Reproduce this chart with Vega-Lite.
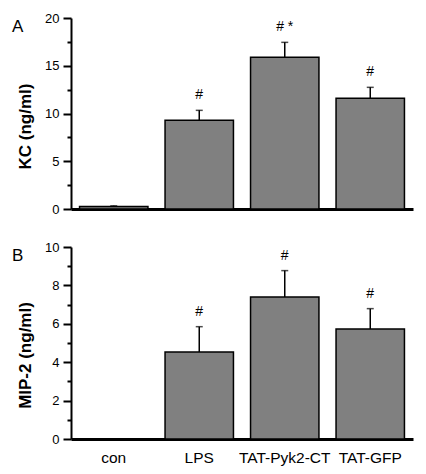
{
  "$schema": "https://vega.github.io/schema/vega-lite/v6.json",
  "padding": {"left": 12, "top": 12, "right": 8, "bottom": 2},
  "config": {
    "view": {"stroke": null},
    "font": "Liberation Sans",
    "axis": {"domainColor": "#000", "tickColor": "#000", "labelColor": "#000", "titleColor": "#000", "grid": false},
    "title": {"offset": -24, "fontSize": 17, "fontWeight": "normal", "anchor": "start", "frame": "group", "color": "#000", "baseline": "alphabetic", "dx": -59}
  },
  "spacing": 25,
  "vconcat": [
    {
      "width": 342,
      "height": 191,
      "title": "A",
      "data": {"values": [
        {"group": "con", "value": 0.25, "err": 0.33, "sig": ""},
        {"group": "LPS", "value": 9.29, "err": 10.33, "sig": "#"},
        {"group": "TAT-Pyk2-CT", "value": 15.88, "err": 17.45, "sig": "# *"},
        {"group": "TAT-GFP", "value": 11.59, "err": 12.74, "sig": "#"}
      ]},
      "encoding": {
        "x": {"field": "group", "type": "nominal", "sort": null,
          "scale": {"domain": ["con", "LPS", "TAT-Pyk2-CT", "TAT-GFP"], "paddingInner": 0.2, "paddingOuter": 0.1},
          "axis": {"title": null, "labels": false, "ticks": false, "domainWidth": 3}},
        "y": {"field": "value", "type": "quantitative",
          "scale": {"domain": [0, 20], "nice": false},
          "axis": {"title": "KC (ng/ml)", "titleFontSize": 17, "titleFontWeight": "bold", "titlePadding": 10, "titleY": 108,
            "values": [0, 2.5, 5, 7.5, 10, 12.5, 15, 17.5, 20],
            "labelOverlap": false,
            "labelExpr": "datum.value % 5 === 0 ? datum.label : ''",
            "tickSize": {"condition": {"test": "datum.value % 5 === 0", "value": 8}, "value": 4},
            "tickWidth": 2, "domainWidth": 2, "labelFontSize": 13, "labelPadding": 4}}
      },
      "layer": [
        {
          "mark": {"type": "bar", "color": "#808080", "stroke": "#000", "strokeWidth": 1.5}
        },
        {
          "mark": {"type": "rule", "color": "#000", "strokeWidth": 1.5},
          "encoding": {"y2": {"field": "err"}}
        },
        {
          "mark": {"type": "tick", "color": "#000", "size": 7, "thickness": 1.5, "orient": "horizontal"},
          "encoding": {"y": {"field": "err", "type": "quantitative"}}
        },
        {
          "mark": {"type": "text", "dy": -15, "baseline": "middle", "fontSize": 14, "color": "#000"},
          "encoding": {"y": {"field": "err", "type": "quantitative"}, "text": {"field": "sig"}}
        }
      ]
    },
    {
      "width": 342,
      "height": 192,
      "title": "B",
      "data": {"values": [
        {"group": "con", "value": 0, "err": null, "sig": ""},
        {"group": "LPS", "value": 4.53, "err": 5.85, "sig": "#"},
        {"group": "TAT-Pyk2-CT", "value": 7.40, "err": 8.77, "sig": "#"},
        {"group": "TAT-GFP", "value": 5.73, "err": 6.79, "sig": "#"}
      ]},
      "encoding": {
        "x": {"field": "group", "type": "nominal", "sort": null,
          "scale": {"domain": ["con", "LPS", "TAT-Pyk2-CT", "TAT-GFP"], "paddingInner": 0.2, "paddingOuter": 0.1},
          "axis": {"title": null, "labelAngle": 0, "ticks": false, "domainWidth": 3, "labelFontSize": 15.5, "labelPadding": 11}},
        "y": {"field": "value", "type": "quantitative",
          "scale": {"domain": [0, 10], "nice": false},
          "axis": {"title": "MIP-2 (ng/ml)", "titleFontSize": 17, "titleFontWeight": "bold", "titlePadding": 10, "titleY": 108,
            "values": [0, 1, 2, 3, 4, 5, 6, 7, 8, 9, 10],
            "labelOverlap": false,
            "labelExpr": "datum.value % 2 === 0 ? datum.label : ''",
            "tickSize": {"condition": {"test": "datum.value % 2 === 0", "value": 8}, "value": 4},
            "tickWidth": 2, "domainWidth": 2, "labelFontSize": 13, "labelPadding": 4}}
      },
      "layer": [
        {
          "mark": {"type": "bar", "color": "#808080", "stroke": "#000", "strokeWidth": 1.5}
        },
        {
          "transform": [{"filter": "datum.err != null"}],
          "mark": {"type": "rule", "color": "#000", "strokeWidth": 1.5},
          "encoding": {"y2": {"field": "err"}}
        },
        {
          "transform": [{"filter": "datum.err != null"}],
          "mark": {"type": "tick", "color": "#000", "size": 7, "thickness": 1.5, "orient": "horizontal"},
          "encoding": {"y": {"field": "err", "type": "quantitative"}}
        },
        {
          "transform": [{"filter": "datum.err != null"}],
          "mark": {"type": "text", "dy": -15, "baseline": "middle", "fontSize": 14, "color": "#000"},
          "encoding": {"y": {"field": "err", "type": "quantitative"}, "text": {"field": "sig"}}
        }
      ]
    }
  ]
}
